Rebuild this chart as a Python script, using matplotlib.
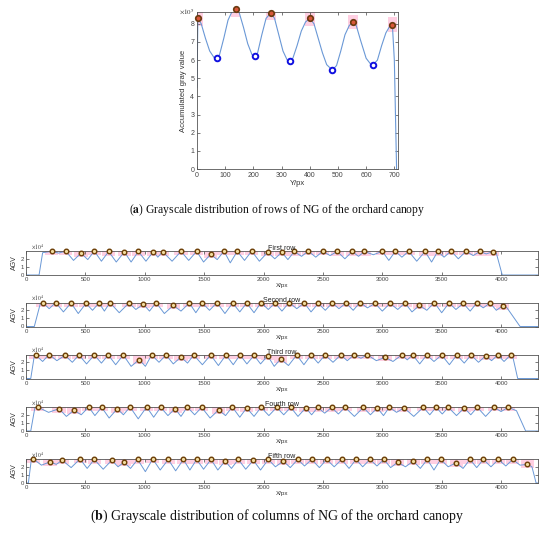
import matplotlib
matplotlib.use("Agg")
import matplotlib.pyplot as plt
from matplotlib.patches import Rectangle

# ---------------- data: top panel (rows) ----------------
top_line_x = [0, 3, 15, 30, 45, 60, 70, 80, 95, 110, 125, 137, 150, 165, 180, 195, 205, 215, 230, 245,
              262, 275, 290, 305, 320, 330, 340, 355, 370, 385, 400, 415, 430, 445, 460, 480, 495, 510,
              525, 540, 553, 565, 580, 600, 615, 625, 640, 655, 670, 685, 693, 700, 708]
top_line_y = [4.5, 8.3, 8.0, 7.2, 6.5, 6.15, 6.1, 6.3, 7.2, 8.2, 8.7, 8.8, 8.6, 7.8, 6.9, 6.3, 6.2, 6.4,
              7.4, 8.3, 8.6, 8.3, 7.4, 6.5, 6.0, 5.95, 6.1, 6.8, 7.6, 8.1, 8.3, 8.0, 7.2, 6.4, 5.75, 5.45,
              5.7, 6.5, 7.4, 7.9, 8.1, 7.9, 7.1, 6.1, 5.8, 5.75, 6.0, 6.8, 7.5, 7.9, 7.95, 6.0, 0.0]
top_peak_x = [3, 137, 262, 400, 553, 693]
top_peak_y = [8.3, 8.8, 8.6, 8.3, 8.1, 7.95]
top_valley_x = [70, 205, 330, 480, 625]
top_valley_y = [6.1, 6.2, 5.95, 5.45, 5.75]

# ---------------- data: bottom panels (columns) ----------------
row_titles = ["First row", "Second row", "Third row", "Fourth row", "Fifth row"]

r1_peak_x = [216, 334, 463, 575, 696, 828, 946, 1072, 1151, 1305, 1437, 1555, 1667, 1779, 1900, 2035,
             2153, 2259, 2377, 2498, 2621, 2747, 2849, 3000, 3110, 3222, 3360, 3467, 3579, 3705, 3823, 3930]
r1_peak_y = [2.92, 2.95, 2.7, 2.95, 2.9, 2.85, 2.9, 2.88, 2.88, 2.92, 2.92, 2.55, 2.95, 2.92, 2.95, 2.8,
             2.8, 2.9, 2.95, 2.92, 2.9, 2.9, 2.9, 2.92, 2.92, 2.92, 2.9, 2.9, 2.95, 2.92, 2.9, 2.88]
r1_val_x = [275, 400, 520, 635, 760, 885, 1010, 1110, 1230, 1370, 1495, 1610, 1720, 1840, 1965, 2095,
            2205, 2320, 2440, 2560, 2685, 2800, 2925, 3055, 3165, 3290, 3415, 3520, 3640, 3765, 3875]
r1_val_y = [2.7, 1.8, 1.9, 1.7, 1.6, 1.6, 1.7, 2.2, 1.7, 1.8, 1.6, 1.9, 1.5, 1.8, 1.7, 2.0,
            1.9, 2.3, 2.2, 2.4, 2.0, 2.3, 2.5, 1.8, 2.2, 1.7, 1.6, 2.2, 2.0, 2.4, 2.6]
r1_start_x = [0, 110, 140]
r1_start_y = [0, 0, 2.75]
r1_end_x = [3960, 4010, 4311]
r1_end_y = [2.7, 0, 0]

r2_peak_x = [140, 250, 379, 505, 615, 707, 867, 988, 1095, 1240, 1375, 1485, 1608, 1740, 1858, 1979, 2097,
             2215, 2343, 2461, 2579, 2694, 2812, 2939, 3065, 3191, 3312, 3438, 3562, 3682, 3795, 3907, 4014]
r2_peak_y = [2.95, 2.95, 2.9, 2.85, 2.9, 2.95, 2.9, 2.75, 2.95, 2.6, 2.9, 2.9, 2.95, 2.9, 2.9, 2.95, 2.9,
             2.95, 2.9, 2.85, 2.9, 2.9, 2.95, 2.85, 2.85, 2.9, 2.6, 2.95, 2.9, 2.85, 2.9, 2.9, 2.55]
r2_val_x = [195, 315, 440, 560, 660, 785, 925, 1040, 1165, 1305, 1430, 1545, 1675, 1800, 1920, 2040,
            2155, 2280, 2400, 2520, 2635, 2755, 2875, 3000, 3130, 3250, 3375, 3500, 3620, 3740, 3850, 3960]
r2_val_y = [2.2, 1.8, 1.6, 2.0, 1.9, 1.7, 2.1, 1.9, 1.6, 1.9, 1.7, 2.0, 1.6, 1.8, 1.7, 2.1,
            1.9, 2.2, 1.8, 2.0, 2.2, 2.0, 2.3, 1.9, 2.1, 1.8, 2.0, 1.7, 2.1, 1.9, 2.3, 2.0]
r2_start_x = [0, 70, 120]
r2_start_y = [0, 0, 2.8]
r2_end_x = [4050, 4160, 4311]
r2_end_y = [2.3, 0, 0]

r3_peak_x = [84, 194, 328, 446, 575, 693, 819, 954, 1058, 1179, 1305, 1412, 1555, 1684, 1802, 1920, 2035,
             2144, 2279, 2400, 2518, 2650, 2762, 2874, 3023, 3163, 3256, 3374, 3500, 3627, 3747, 3871, 3972, 4081]
r3_peak_y = [2.85, 2.96, 2.85, 2.9, 2.9, 2.9, 2.9, 2.33, 2.9, 2.9, 2.65, 2.9, 2.9, 2.9, 2.9, 2.85, 2.8,
             2.4, 2.9, 2.9, 2.9, 2.9, 2.9, 2.92, 2.6, 2.9, 2.9, 2.9, 2.9, 2.9, 2.9, 2.8, 2.9, 2.9]
r3_val_x = [140, 260, 390, 510, 635, 755, 885, 1005, 1120, 1240, 1360, 1485, 1620, 1745, 1860, 1975, 2090,
            2210, 2340, 2460, 2585, 2705, 2820, 2950, 3090, 3210, 3315, 3435, 3565, 3690, 3810, 3920, 4025]
r3_val_y = [2.1, 2.2, 2.0, 1.8, 1.9, 1.7, 1.5, 1.5, 2.0, 1.8, 1.9, 1.7, 1.6, 1.7, 1.8, 1.8, 1.5,
            1.6, 1.7, 1.9, 2.0, 2.2, 2.5, 2.2, 2.1, 2.3, 1.8, 2.1, 1.7, 1.9, 2.0, 2.2, 2.1]
r3_start_x = [0, 40, 70]
r3_start_y = [0, 0, 2.8]
r3_end_x = [4100, 4140, 4311]
r3_end_y = [2.6, 0, 0]

r4_peak_x = [98, 278, 404, 528, 637, 769, 876, 1016, 1134, 1255, 1358, 1479, 1622, 1737, 1858, 1979, 2111,
             2229, 2355, 2456, 2574, 2686, 2840, 2958, 3059, 3183, 3345, 3452, 3556, 3690, 3800, 3941, 4061]
r4_peak_y = [2.96, 2.75, 2.55, 2.96, 2.92, 2.75, 2.96, 2.96, 2.92, 2.75, 2.96, 2.92, 2.6, 2.96, 2.85, 2.92,
             2.92, 2.92, 2.85, 2.9, 2.9, 2.92, 2.9, 2.85, 2.92, 2.85, 2.92, 2.92, 2.92, 2.85, 2.92, 2.92, 2.92]
r4_val_x = [190, 340, 465, 580, 700, 820, 945, 1075, 1195, 1305, 1420, 1550, 1680, 1800, 1920, 2045,
            2170, 2290, 2405, 2515, 2630, 2765, 2900, 3010, 3120, 3265, 3400, 3505, 3625, 3745, 3870, 4000]
r4_val_y = [2.3, 1.8, 2.0, 1.9, 1.6, 2.0, 1.5, 1.7, 1.9, 1.8, 2.0, 1.6, 1.9, 1.7, 1.8, 1.9,
            2.0, 1.8, 2.0, 2.2, 2.1, 1.8, 2.0, 1.9, 2.3, 1.8, 2.0, 2.1, 1.9, 2.0, 1.8, 2.4]
r4_start_x = [0, 40, 75]
r4_start_y = [0, 0, 2.9]
r4_end_x = [4130, 4207, 4311]
r4_end_y = [2.5, 0, 0]

r5_peak_x = [62, 202, 306, 455, 575, 722, 825, 940, 1067, 1198, 1325, 1437, 1558, 1676, 1788, 1914, 2040,
             2167, 2288, 2406, 2532, 2658, 2779, 2896, 3014, 3130, 3261, 3379, 3491, 3621, 3738, 3851, 3977,
             4098, 4221]
r5_peak_y = [2.96, 2.6, 2.8, 2.96, 2.9, 2.8, 2.55, 2.9, 2.96, 2.9, 2.9, 2.9, 2.9, 2.7, 2.9, 2.8, 2.9,
             2.7, 2.9, 2.9, 2.9, 2.9, 2.9, 2.9, 2.9, 2.55, 2.7, 2.9, 2.9, 2.5, 2.9, 2.9, 2.9, 2.9, 2.3]
r5_val_x = [130, 255, 380, 515, 650, 775, 880, 1005, 1130, 1260, 1380, 1495, 1615, 1730, 1850, 1975, 2100,
            2225, 2345, 2470, 2595, 2720, 2835, 2955, 3070, 3195, 3320, 3435, 3555, 3680, 3795, 3915, 4040, 4160]
r5_val_y = [2.2, 2.3, 1.9, 1.8, 1.7, 2.0, 1.8, 1.4, 1.6, 1.5, 1.6, 1.7, 1.6, 1.8, 1.7, 1.6, 2.0,
            1.9, 2.1, 1.9, 2.0, 1.8, 2.0, 2.1, 1.9, 2.0, 1.8, 1.6, 2.0, 1.8, 1.9, 2.0, 2.1, 2.2]
r5_start_x = [0, 20, 45]
r5_start_y = [0, 0, 2.9]
r5_end_x = [4260, 4295, 4311]
r5_end_y = [2.0, 0, 0]

rows = [
    (r1_peak_x, r1_peak_y, r1_val_x, r1_val_y, r1_start_x, r1_start_y, r1_end_x, r1_end_y),
    (r2_peak_x, r2_peak_y, r2_val_x, r2_val_y, r2_start_x, r2_start_y, r2_end_x, r2_end_y),
    (r3_peak_x, r3_peak_y, r3_val_x, r3_val_y, r3_start_x, r3_start_y, r3_end_x, r3_end_y),
    (r4_peak_x, r4_peak_y, r4_val_x, r4_val_y, r4_start_x, r4_start_y, r4_end_x, r4_end_y),
    (r5_peak_x, r5_peak_y, r5_val_x, r5_val_y, r5_start_x, r5_start_y, r5_end_x, r5_end_y),
]

# ---------------- styling ----------------
plt.rcParams['font.family'] = ['Liberation Sans', 'DejaVu Sans']
plt.rcParams['mathtext.fontset'] = 'stix'
LINE_C = '#6a98d6'
PINK = '#ffcfe2'
SPINE_C = '#555555'
TICK_C = '#444444'

W, H = 550, 544
fig = plt.figure(figsize=(W / 100, H / 100), dpi=100)


def axrect(l, t, r, b):
    return [l / W, 1 - b / H, (r - l) / W, (b - t) / H]


def style_axes(ax, fs):
    for s in ax.spines.values():
        s.set_color(SPINE_C)
        s.set_linewidth(0.6)
    ax.tick_params(direction='in', length=2, width=0.5, colors=TICK_C, labelsize=fs,
                   top=True, right=True, pad=2)


# ---------- top panel ----------
ax0 = fig.add_axes(axrect(197, 12, 398, 169))
for px, py in zip(top_peak_x, top_peak_y):
    ax0.add_patch(Rectangle((px - 17, py - 0.4), 34, 0.8, facecolor=PINK, edgecolor='none', zorder=1))
ax0.plot(top_line_x, top_line_y, color=LINE_C, lw=0.8, zorder=2)
ax0.plot(top_peak_x, top_peak_y, 'o', ms=4, mfc='#d9583a', mec='#6b3a10', mew=1.2, zorder=3,
         clip_on=False)
ax0.plot(top_valley_x, top_valley_y, 'o', ms=4, mfc='white', mec='#1010e0', mew=1.4, zorder=3)
ax0.set_xlim(0, 713)
ax0.set_ylim(0, 8.65)
ax0.set_xticks(range(0, 701, 100))
ax0.set_yticks(range(0, 9))
style_axes(ax0, 5)
ax0.set_xlabel('Y/px', fontsize=5.5, labelpad=1, color='#333333')
ax0.set_ylabel('Accumulated gray value', fontsize=5.5, labelpad=2, color='#333333')
ax0.text(-0.01, 1.0, r'$\times 10^5$', transform=ax0.transAxes, fontsize=5, ha='right', va='center',
         color='#333333')

fig.text(277 / W, 1 - 210 / H, r'($\mathbf{a}$) Grayscale distribution of rows of NG of the orchard canopy',
         ha='center', va='center', fontsize=8.4, family='Liberation Serif', color='#111111')

# ---------- bottom panels ----------
row_tops = [251, 302.5, 354.5, 407, 459]
for i, (pk_x, pk_y, v_x, v_y, s_x, s_y, e_x, e_y) in enumerate(rows):
    t = row_tops[i]
    ax = fig.add_axes(axrect(26, t, 538, t + 24))
    # curve vertices: start, alternating peaks and valleys, end
    lx = list(s_x)
    ly = list(s_y)
    for j in range(len(pk_x)):
        lx.append(pk_x[j])
        ly.append(pk_y[j])
        if j < len(v_x):
            lx.append(v_x[j])
            ly.append(v_y[j])
    lx += list(e_x)
    ly += list(e_y)
    for px, py in zip(pk_x, pk_y):
        ax.add_patch(Rectangle((px - 55, py - 0.5), 110, 2.96 - (py - 0.5), facecolor=PINK,
                               edgecolor='none', zorder=1))
    ax.plot(lx, ly, color=LINE_C, lw=0.7, zorder=2)
    ax.plot(pk_x, pk_y, 'o', ms=3.3, mfc='#f2dca0', mec='#6b3d05', mew=1.0, zorder=3, clip_on=False)
    ax.set_xlim(0, 4311)
    ax.set_ylim(0, 2.96)
    ax.set_xticks(range(0, 4001, 500))
    ax.set_yticks([0, 1, 2])
    style_axes(ax, 4.3)
    ax.tick_params(pad=1.5)
    ax.set_xlabel('X/px', fontsize=4.5, labelpad=1, color='#333333')
    ax.set_ylabel('AGV', fontsize=5, labelpad=1.5, color='#333333')
    ax.set_title(row_titles[i], fontsize=5, pad=0.5, color='#222222')
    ax.text(0.01, 1.0, r'$\times 10^4$', transform=ax.transAxes, fontsize=4, ha='left', va='bottom',
            color='#333333')

fig.text(277 / W, 1 - 516 / H, r'($\mathbf{b}$) Grayscale distribution of columns of NG of the orchard canopy',
         ha='center', va='center', fontsize=10, family='Liberation Serif', color='#111111')

fig.savefig('out.png', dpi=100)
